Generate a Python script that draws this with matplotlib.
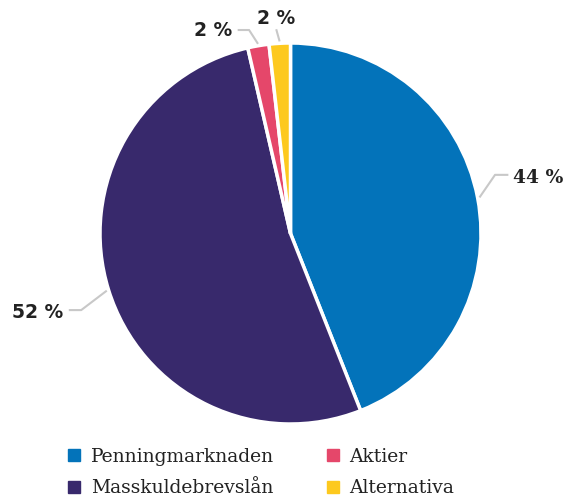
import numpy as np
import matplotlib
matplotlib.use("Agg")
import matplotlib.pyplot as plt
from matplotlib.lines import Line2D

categories = ["Penningmarknaden", "Masskuldebrevslån", "Aktier", "Alternativa"]
values = [44.0, 52.4, 1.8, 1.8]
labels = ["44 %", "52 %", "2 %", "2 %"]
colors = ["#0373BA", "#38296C", "#E5476A", "#FDC91E"]

W, H = 566, 496
fig = plt.figure(figsize=(W / 100, H / 100), dpi=100)
ax = fig.add_axes([0, 0, 1, 1])
cx, cy, R = 290.5, 233.5, 190.5

wedges, _ = ax.pie(values, colors=colors, startangle=90, counterclock=False,
                   radius=1.0, wedgeprops=dict(edgecolor="white", linewidth=2.5))
ax.set_xlim(-cx / R, (W - cx) / R)
ax.set_ylim(-(H - cy) / R, cy / R)
ax.set_aspect("equal")
ax.axis("off")

# leader line geometry per slice
style = [
    dict(er=1.117, ea=16.0, hl=0.07, tdx=0.025, tdy=-0.018, ha="left", fam="DejaVu Serif"),
    dict(er=1.17, ea=200.1, hl=-0.065, tdx=-0.03, tdy=-0.01, ha="right", fam="DejaVu Sans"),
    dict(er=1.09, ea=101.5, hl=-0.06, tdx=-0.03, tdy=0.0, ha="right", fam="DejaVu Sans"),
    dict(er=1.075, ea=94.0, hl=0.0, tdx=0.0, tdy=0.055, ha="center", fam="DejaVu Sans"),
]
for w, lab, s in zip(wedges, labels, style):
    mid = np.deg2rad((w.theta1 + w.theta2) / 2)
    x0, y0 = 1.01 * np.cos(mid), 1.01 * np.sin(mid)
    ea = np.deg2rad(s["ea"])
    x1, y1 = s["er"] * np.cos(ea), s["er"] * np.sin(ea)
    x2, y2 = x1 + s["hl"], y1
    ax.plot([x0, x1, x2], [y0, y1, y2], color="#C8C8C8", lw=1.5, solid_capstyle="butt")
    ax.text(x2 + s["tdx"], y2 + s["tdy"], lab, ha=s["ha"], va="center",
            fontsize=13.5, fontweight="bold", family=s["fam"], color="#222222")

handles = [Line2D([], [], marker="s", linestyle="none", markersize=9,
                  markerfacecolor=c, markeredgecolor=c) for c in colors]
leg = fig.legend(handles, categories, ncol=2, loc="lower left",
                 bbox_to_anchor=(62 / W, -5 / H), frameon=False,
                 prop=dict(family="DejaVu Serif", size=13.5), handlelength=0.9,
                 handletextpad=0.45, columnspacing=2.67, labelspacing=0.72,
                 borderaxespad=0.0, borderpad=0.2)
for t in leg.get_texts():
    t.set_color("#222222")

fig.savefig("out.png", dpi=100)
